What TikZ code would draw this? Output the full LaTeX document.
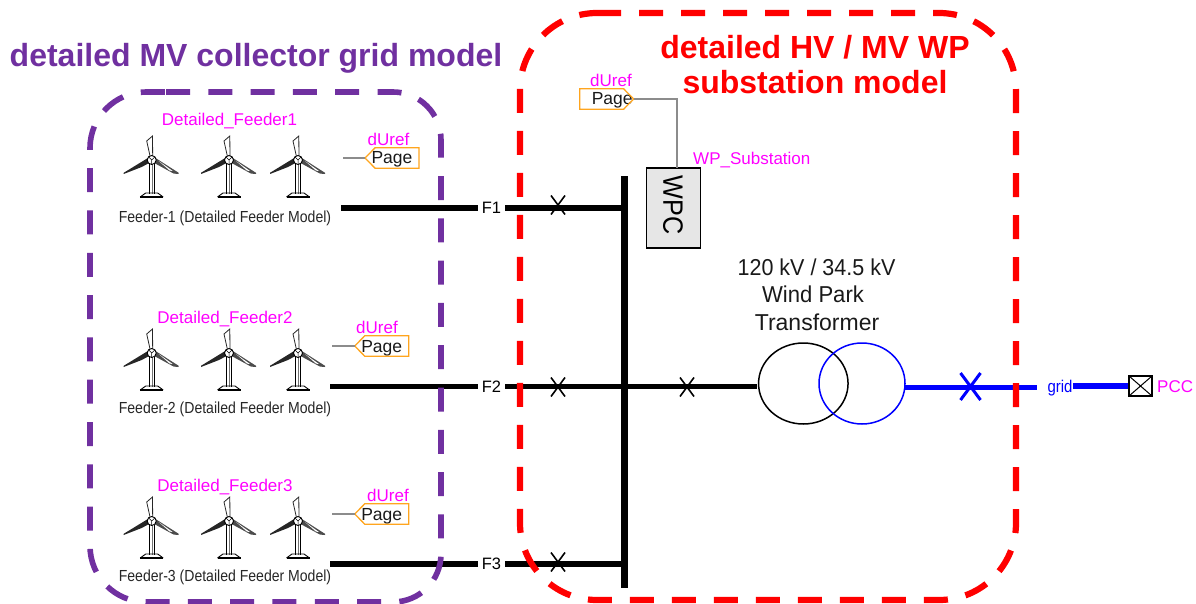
\documentclass[tikz,border=0pt]{standalone}
\usepackage{fontspec}
\usepackage{graphicx}
\setmainfont{Liberation Sans}
\usetikzlibrary{shapes.geometric}
\definecolor{mvpurple}{RGB}{112,48,160}
\definecolor{pagemag}{RGB}{255,0,255}
\definecolor{tagorange}{RGB}{255,165,30}
\definecolor{wpcgray}{RGB}{230,230,230}
\newcommand{\fs}[1]{\fontsize{#1}{#1}\selectfont}
\newcommand{\tagwest}[1]{\draw[tagline] (#1.north east) -- (#1.south east) -- ([xshift=10]#1.south west) -- (#1.west) -- ([xshift=10]#1.north west) -- cycle;}
\newcommand{\tageast}[1]{\draw[tagline] (#1.north west) -- (#1.south west) -- ([xshift=-10]#1.south east) -- (#1.east) -- ([xshift=-10]#1.north east) -- cycle;}
\tikzset{
  x=1pt,y=-1pt,
  turbine/.pic={
    % upper blade
    \filldraw[fill=white,draw=black!85,line width=.8] (-1,-1) -- (-5,-19) -- (.8,-24) -- (1,-1) -- cycle;
    % left blade
    \fill[black!85] (-3,-2.5) -- (-28,12.8) -- (-28,14) -- (-10,7) -- (-3.5,3.5) -- cycle;
    % right blade
    \fill[black!70] (3,-2.5) -- (27,12.8) -- (27,14) -- (22,13.6) -- (3.5,3.5) -- cycle;
    \fill[white] (7,1) -- (21,11) -- (18,10.6) -- cycle;
    % tower
    \fill[black!55] (-1.2,3) rectangle (1.2,34);
    \fill[white] (-.9,3) rectangle (-.1,34);
    \draw[line width=.9,black] (-2.5,3.5) -- (-2.5,34) (2.5,3.5) -- (2.5,34);
    % hub
    \filldraw[fill=white,line width=.9,draw=black] (0,0) circle (4.5);
    \draw[line width=.5] (0,0) -- (-3,-3) (0,0) -- (3,-3) (0,0) -- (0,4);
    % base
    \draw[line width=.9,black] (-11.5,37) -- (-6,33) -- (6,33) -- (11.5,37);
    \draw[line width=1.3,black] (-11.5,37) -- (11.5,37);
  },
  maglabel/.style={text=pagemag,inner sep=0,font=\fs{17}},
  feederlabel/.style={text=black!85,inner sep=0,font=\fs{16},xscale=.878},
  pagebox/.style={minimum width=53.5,minimum height=20,inner sep=0,text=black!90,font=\fs{17.5},text height=15.7,text depth=3.7},
  tagline/.style={draw=tagorange,line width=1.3,line join=miter},
  feed/.style={line width=5.2,black},
  flabel/.style={inner sep=0,minimum width=27,minimum height=6,font=\fs{16.5},text=black},
  ctrl/.style={line width=1.1,black!45},
  cb/.style={line width=1.6,black},
  mvbox/.style={draw=mvpurple,line width=5.6,dash pattern=on 24 off 18.3},
  hvbox/.style={draw=red,line width=6.2,dash pattern=on 24 off 18},
  side/.style={inner sep=0,text=black!90,font=\fs{23}},
}
\begin{document}
\begin{tikzpicture}
\useasboundingbox (0,0) rectangle (1196,604);
% titles
\node[inner sep=0,text=mvpurple,font=\bfseries\fs{32}] (titlemv) at (256,58) {detailed MV collector grid model};
\node[inner sep=0,text=red,font=\bfseries\fs{32}] (titlehv1) at (815,47) {detailed HV / MV WP};
\node[inner sep=0,text=red,font=\bfseries\fs{32}] (titlehv2) at (815,82) {substation model};
% turbines
\foreach \yy in {160,353,521}{
  \foreach \xx in {151.7,229,298}{
    \pic at (\xx,\yy) {turbine};
  }
}
\node[maglabel] (df1) at (229.5,121) {Detailed\_Feeder1};
\node[maglabel] (df2) at (225,319) {Detailed\_Feeder2};
\node[maglabel] (df3) at (225,487) {Detailed\_Feeder3};
\node[feederlabel] (fl1) at (225,218) {Feeder-1 (Detailed Feeder Model)};
\node[feederlabel] (fl2) at (225,409) {Feeder-2 (Detailed Feeder Model)};
\node[feederlabel] (fl3) at (225,577) {Feeder-3 (Detailed Feeder Model)};
% page tags
\node[maglabel] (du1) at (388.5,139) {dUref};
\node[pagebox] (pg1) at (392,158) {Page\hspace{4pt}};
\tagwest{pg1}
\coordinate (c1) at (343,158);
\draw[ctrl] (c1) -- (pg1.west);
\node[maglabel] (du2) at (377,327) {dUref};
\node[pagebox] (pg2) at (381.7,346) {Page\hspace{5pt}};
\tagwest{pg2}
\coordinate (c2) at (332,346);
\draw[ctrl] (c2) -- (pg2.west);
\node[maglabel] (du3) at (388,495) {dUref};
\node[pagebox] (pg3) at (381.7,514) {Page\hspace{5pt}};
\tagwest{pg3}
\coordinate (c3) at (332,514);
\draw[ctrl] (c3) -- (pg3.west);
\node[maglabel] (du0) at (611,80) {dUref};
\node[pagebox] (pg0) at (606.7,99) {\hspace{11pt}Page};
\tageast{pg0}
% WPC
\node[draw=black,line width=1.9,fill=wpcgray,minimum width=54,minimum height=80,inner sep=0] (wpc) at (673.5,207.7) {};
\node[inner sep=0,font=\fs{28},rotate=-90,text=black] (wpct) at (673,205) {\scalebox{.9}[1]{WPC}};
\coordinate (wpctop) at (677,167.7);
\draw[ctrl] (pg0.east) -| (wpctop);
\node[maglabel,anchor=west] (wps) at (693,160) {WP\_Substation};
% feeder lines
\node[flabel] (f1) at (491.5,208) {F1\hspace{8pt}};
\node[flabel] (f2) at (491.5,386.5) {F2\hspace{8pt}};
\node[flabel] (f3) at (491.5,564) {F3\hspace{8pt}};
\coordinate (a1) at (341,208);
\coordinate (a2) at (330,386.5);
\coordinate (a3) at (330,564);
\coordinate (bt) at (624.3,176.5);
\coordinate (bb) at (624.3,588);
\draw[line width=7] (bt) -- (bb);
\draw[feed] (a1) -- (f1.west);
\draw[feed] (a2) -- (f2.west);
\draw[feed] (a3) -- (f3.west);
\draw[feed] (f1.east) -- (624,208);
\draw[feed] (f3.east) -- (624,564);
% transformer
\node[draw=black,ellipse,line width=1.5,minimum width=89.5,minimum height=81,inner sep=0] (tw1) at (803.3,383.5) {};
\node[draw=blue,ellipse,line width=1.5,minimum width=86,minimum height=81,inner sep=0] (tw2) at (862,383.5) {};
\coordinate (t1l) at (757,386.5);
\draw[feed] (f2.east) -- (t1l);
% breakers
\foreach \bx/\by in {558/205,558/387,687/387,558/562}{
  \draw[cb] (\bx-7,\by-9.5) -- (\bx+7,\by+9.5);
  \draw[cb] (\bx+7,\by-9.5) -- (\bx-7,\by+9.5);
}
% blue side
\node[inner sep=0,text=blue,font=\fs{17},xscale=.88] (grid) at (1060,388) {grid};
\coordinate (t2r) at (905,387);
\coordinate (bus2) at (1037,387);
\draw[blue,line width=5] (t2r) -- (bus2);
\draw[blue,line width=3] (960.5,373) -- (980.5,400) (980.5,373) -- (960.5,400);
\node[draw=black,line width=1.2,minimum width=23,minimum height=20,inner sep=0,path picture={\draw[line width=1] (path picture bounding box.north west) -- (path picture bounding box.south east) (path picture bounding box.north east) -- (path picture bounding box.south west);}] (pcc) at (1140.5,386) {};
\coordinate (g2) at (1073,386);
\draw[blue,line width=6.5] (g2) -- (pcc.west);
\node[maglabel,anchor=west] (pcct) at (1157,387) {PCC};
% side text
\node[side,xscale=.935] (s1) at (816.5,267) {120 kV / 34.5 kV};
\node[side,xscale=.96] (s2) at (813,294) {Wind Park};
\node[side] (s3) at (817,322) {Transformer};
% region frames
\draw[mvbox] (166,92) [rounded corners=48] -- (441,92) -- (441,602) [rounded corners=56] -- (90,602) -- (90,92) -- (166,92);
\draw[hvbox,rounded corners=77] (597,13) -- (1016,13) -- (1016,600) -- (520,600) -- (520,13) -- (597,13);
\end{tikzpicture}
\end{document}
